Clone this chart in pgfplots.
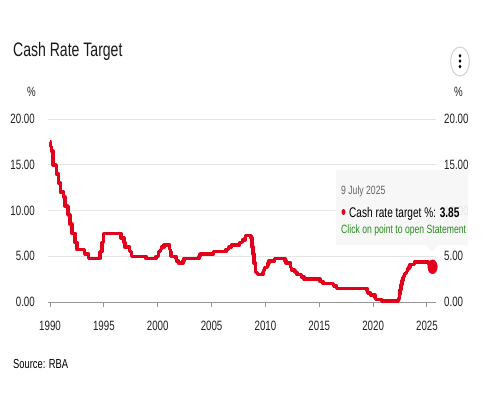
\documentclass[border=0pt]{standalone}
\usepackage{fontspec}
\setmainfont{Liberation Sans}[FakeStretch=0.72]
\usepackage{pgfplots}
\usepackage{pgfplotstable}
\pgfplotsset{compat=1.18}
\definecolor{rbared}{RGB}{226,0,26}
\definecolor{gridc}{RGB}{228,228,228}
\definecolor{axisc}{RGB}{150,150,150}
\definecolor{txt}{RGB}{35,35,35}
\definecolor{tipgreen}{RGB}{40,140,30}
\definecolor{tipbg}{RGB}{247,247,247}
\definecolor{tipgray}{RGB}{100,100,100}

\pgfplotstableread{
year rate
1990.00 17.50
1990.06 17.00
1990.12 16.50
1990.26 15.00
1990.58 14.00
1990.79 13.00
1990.96 12.00
1991.26 11.50
1991.37 10.50
1991.67 9.50
1991.85 8.50
1992.02 7.50
1992.34 6.50
1992.52 5.75
1993.22 5.25
1993.58 4.75
1994.63 5.50
1994.81 6.50
1994.95 7.50
1996.58 7.00
1996.85 6.50
1996.94 6.00
1997.39 5.50
1997.58 5.00
1998.92 4.75
1999.84 5.00
2000.09 5.50
2000.26 5.75
2000.34 6.00
2000.59 6.25
2001.10 5.75
2001.18 5.50
2001.25 5.00
2001.68 4.75
2001.75 4.50
2001.93 4.25
2002.35 4.50
2002.43 4.75
2003.85 5.00
2003.92 5.25
2005.17 5.50
2006.33 5.75
2006.59 6.00
2006.85 6.25
2007.60 6.50
2007.85 6.75
2008.10 7.00
2008.17 7.25
2008.67 7.00
2008.77 6.00
2008.85 5.25
2008.92 4.25
2009.09 3.25
2009.27 3.00
2009.77 3.25
2009.84 3.50
2009.92 3.75
2010.17 4.00
2010.26 4.25
2010.34 4.50
2010.84 4.75
2011.84 4.50
2011.93 4.25
2012.33 3.75
2012.43 3.50
2012.75 3.25
2012.93 3.00
2013.35 2.75
2013.60 2.50
2015.09 2.25
2015.34 2.00
2016.34 1.75
2016.59 1.50
2019.43 1.25
2019.50 1.00
2019.75 0.75
2020.17 0.50
2020.21 0.25
2020.84 0.10
2022.34 0.35
2022.43 0.85
2022.51 1.35
2022.59 1.85
2022.68 2.35
2022.76 2.60
2022.84 2.85
2022.93 3.10
2023.11 3.35
2023.18 3.60
2023.34 3.85
2023.43 4.10
2023.85 4.35
2025.13 4.10
2025.39 3.85
2025.52 3.85
}\ratedata

\begin{document}
\begin{tikzpicture}[x=1bp,y=1bp]
\useasboundingbox (0,0) rectangle (485,399);
\fill[white] (0,0) rectangle (485,399);

% right-hand labels
\begin{axis}[
  at={(48bp,97bp)}, anchor=south west, scale only axis,
  width=388bp, height=183bp,
  xmin=1989.81, xmax=2025.84, ymin=0, ymax=20,
  axis x line=none, axis y line*=right,
  y axis line style={draw=none}, ytick style={draw=none},
  xtick=\empty,
  ytick={0,5,10,15,20},
  yticklabels={0.00,5.00,10.00,15.00,20.00},
  yticklabel style={anchor=west, inner sep=0pt, xshift=8bp,
    font=\fontsize{13.5bp}{16bp}\selectfont, text=txt},
]
\end{axis}

\begin{axis}[
  at={(48bp,97bp)}, anchor=south west, scale only axis,
  width=388bp, height=183bp,
  xmin=1989.81, xmax=2025.84, ymin=0, ymax=20,
  axis x line*=bottom, axis y line*=left,
  x axis line style={draw=axisc, line width=1bp, -},
  y axis line style={draw=none},
  xtick={1990,1995,2000,2005,2010,2015,2020,2025},
  xticklabels={1990,1995,2000,2005,2010,2015,2020,2025},
  ytick={0,5,10,15,20},
  yticklabels={0.00,5.00,10.00,15.00,20.00},
  tick align=outside, major tick length=5bp,
  xtick style={draw=axisc, line width=1bp},
  ytick style={draw=none},
  ymajorgrids, grid style={draw=gridc, line width=1bp},
  tick label style={font=\fontsize{13.5bp}{16bp}\selectfont, text=txt},
  yticklabel style={anchor=east, inner sep=0pt, xshift=-8bp},
  xticklabel style={anchor=north, inner sep=0pt, yshift=-14bp},
  clip=false,
]
\addplot[const plot, rbared, line width=3.5bp, line join=round] table[x=year, y=rate] {\ratedata};
\addplot[only marks, mark=*, mark size=7bp, rbared, mark options={xscale=0.68, fill=rbared, draw=rbared}] coordinates {(2025.52,3.85)};
\end{axis}

% tooltip
\fill[tipbg, fill opacity=0.93] (336,229) rectangle (468,154);
\fill[tipbg, fill opacity=0.93] (426,154) -- (432,147) -- (438,154) -- cycle;
\node[anchor=base west, inner sep=0, text=tipgray] at (341,204.5) {\fontsize{12bp}{14bp}\selectfont 9 July 2025};
\fill[rbared] (343.5,187) ellipse (2bp and 3bp);
\node[anchor=base west, inner sep=0, text=black] at (349,182) {\fontsize{14bp}{16bp}\selectfont Cash rate target \%: \textbf{3.85}};
\node[anchor=base west, inner sep=0, text=tipgreen] at (341,165.5) {\fontsize{12bp}{14bp}\selectfont Click on point to open Statement};

% title, units, source, menu
\node[anchor=base west, inner sep=0, text=black!90] at (13,342.5) {\fontsize{19.5bp}{22bp}\selectfont Cash Rate Target};
\node[anchor=base west, inner sep=0, text=txt] at (27,303) {\fontsize{13.5bp}{16bp}\selectfont \%};
\node[anchor=base west, inner sep=0, text=txt] at (454,303) {\fontsize{13.5bp}{16bp}\selectfont \%};
\node[anchor=base west, inner sep=0, text=black] at (13,31) {\fontsize{13bp}{15bp}\selectfont Source: RBA};
\draw[gray!35, line width=1bp] (460,337.5) ellipse (9.3 and 14.5);
\fill[black] (460,343.2) ellipse (1.4 and 1.9);
\fill[black] (460,337.9) ellipse (1.4 and 1.9);
\fill[black] (460,332.4) ellipse (1.4 and 1.9);
\end{tikzpicture}
\end{document}
